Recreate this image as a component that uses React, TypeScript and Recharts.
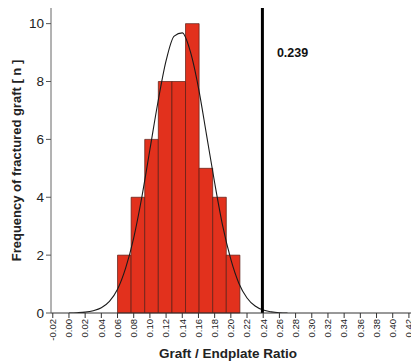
import {
  ComposedChart,
  Line,
  ReferenceArea,
  ReferenceLine,
  XAxis,
  YAxis,
} from 'recharts';

// histogram bins (edges) and counts
const binEdges = [0.06, 0.0768, 0.0936, 0.1104, 0.1272, 0.144, 0.1608, 0.1776, 0.1944, 0.2112];
const binCounts = [2, 4, 6, 8, 8, 10, 5, 4, 2];

// fitted normal curve
const curveX = [
  0.0, 0.01, 0.02, 0.03, 0.04, 0.05, 0.06, 0.07, 0.08, 0.09, 0.1, 0.11, 0.12, 0.13,
  0.14, 0.15, 0.16, 0.17, 0.18, 0.19, 0.2, 0.21, 0.22, 0.23, 0.24, 0.25, 0.26, 0.27,
];
const curveY = [
  0.0, 0.01, 0.03, 0.08, 0.18, 0.4, 0.82, 1.55, 2.6, 4.0, 5.65, 7.3, 8.72, 9.57,
  9.68, 9.03, 7.78, 6.15, 4.5, 3.0, 1.85, 1.02, 0.52, 0.24, 0.1, 0.04, 0.01, 0.0,
];

const xTicks = [
  -0.02, 0.0, 0.02, 0.04, 0.06, 0.08, 0.1, 0.12, 0.14, 0.16, 0.18, 0.2, 0.22, 0.24,
  0.26, 0.28, 0.3, 0.32, 0.34, 0.36, 0.38, 0.4, 0.42,
];
const yTicks = [0, 2, 4, 6, 8, 10];

const cutoff = 0.239;
const cutoffLabel = '0.239';

const FONT = "'Liberation Sans', Arial, Helvetica, sans-serif";

const data = curveX.map((x, i) => ({ x, y: curveY[i] }));

function XTick(props: any) {
  const { x, y, payload } = props;
  return (
    <text
      x={x}
      y={y}
      transform={'rotate(-90 ' + x + ' ' + y + ')'}
      textAnchor="end"
      dy="0.35em"
      fontSize={9.5}
      fontFamily={FONT}
      fill="#222"
    >
      {Number(payload.value).toFixed(2)}
    </text>
  );
}

export default function App() {
  return (
    <div
      style={{
        position: 'absolute',
        left: 0,
        top: 0,
        width: 411,
        height: 362,
        overflow: 'hidden',
        background: '#fff',
      }}
    >
      <ComposedChart
        width={417}
        height={362}
        data={data}
        margin={{ top: 8, right: 0, bottom: 0, left: 0 }}
      >
        <XAxis
          xAxisId="top"
          orientation="top"
          type="number"
          dataKey="x"
          domain={[-0.0222, 0.43]}
          allowDataOverflow
          height={0}
          tick={false}
          tickLine={false}
          axisLine={{ stroke: '#999' }}
        />
        <XAxis
          type="number"
          dataKey="x"
          domain={[-0.0222, 0.43]}
          allowDataOverflow
          ticks={xTicks}
          interval={0}
          height={49}
          tickSize={5}
          tickMargin={1}
          tick={<XTick />}
          tickLine={{ stroke: '#333' }}
          axisLine={{ stroke: '#333' }}
          label={(p: any) => {
            const vb = p.viewBox;
            return (
              <text
                x={vb.x + vb.width / 2 - 6}
                y={vb.y + 45}
                textAnchor="middle"
                fontSize={13.5}
                fontWeight="bold"
                fontFamily={FONT}
                fill="#222"
              >
                Graft / Endplate Ratio
              </text>
            );
          }}
        />
        <YAxis
          type="number"
          domain={[0, 10.54]}
          allowDataOverflow
          ticks={yTicks}
          width={51}
          tickSize={5}
          tickMargin={2}
          tick={{ fontSize: 13.5, fontFamily: FONT, fill: '#222' }}
          tickLine={{ stroke: '#555' }}
          axisLine={{ stroke: '#666' }}
          label={(p: any) => {
            const vb = p.viewBox;
            const cx = 21;
            const cy = vb.y + vb.height / 2;
            return (
              <text
                x={cx}
                y={cy}
                transform={'rotate(-90 ' + cx + ' ' + cy + ')'}
                textAnchor="middle"
                fontSize={13}
                fontWeight="bold"
                fontFamily={FONT}
                fill="#222"
              >
                Frequency of fractured graft  [ n ]
              </text>
            );
          }}
        />

        {binCounts.map((c, i) => (
          <ReferenceArea
            key={'bin-' + i}
            x1={binEdges[i]}
            x2={binEdges[i + 1]}
            y1={0}
            y2={c}
            fill="#E2311D"
            fillOpacity={1}
            stroke="#5a1b12"
            strokeWidth={0.7}
            strokeOpacity={1}
          />
        ))}

        <Line
          type="monotone"
          dataKey="y"
          stroke="#1a1a1a"
          strokeWidth={1.1}
          dot={false}
          activeDot={false}
          isAnimationActive={false}
        />

        <ReferenceLine
          x={cutoff}
          stroke="#000"
          strokeWidth={3}
          label={(p: any) => {
            const vb = p.viewBox;
            return (
              <text
                x={vb.x + 14.5}
                y={vb.y + 48.5}
                fontSize={12.5}
                fontWeight="bold"
                fontFamily={FONT}
                fill="#111"
              >
                {cutoffLabel}
              </text>
            );
          }}
        />
      </ComposedChart>
    </div>
  );
}
